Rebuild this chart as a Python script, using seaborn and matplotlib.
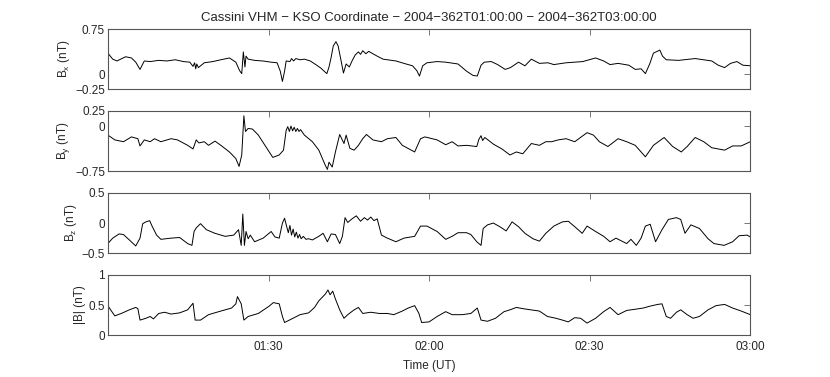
import pandas as pd
import seaborn as sns
import matplotlib
matplotlib.use("Agg")
import matplotlib.pyplot as plt

# Minutes after 01:00 UT and field values (nT)
bx_t = [0.0, 0.9, 1.7, 3.3, 4.4, 5.2, 6.0, 6.8, 7.9, 9.5, 11.0, 12.6, 14.1, 15.3, 15.9,
        16.2, 16.4, 16.6, 16.9, 18.0, 19.6, 21.1, 22.7, 23.9, 24.6, 25.0, 25.3, 25.6, 25.8,
        26.2, 27.4, 28.9, 30.5, 31.6, 32.2, 32.6, 33.0, 33.3, 34.0, 34.3, 34.7, 35.1, 35.9,
        36.7, 37.8, 39.0, 39.8, 40.4, 40.9, 41.3, 41.7, 42.1, 42.6, 43.0, 43.5, 44.0, 44.5,
        45.1, 45.6, 46.2, 46.8, 47.2, 47.6, 48.2, 48.7, 49.5, 50.3, 51.4, 53.8, 55.3, 56.9,
        57.7, 58.2, 58.8, 59.6, 61.5, 63.1, 65.4, 67.0, 68.2, 69.0, 69.7, 70.3, 71.6, 72.8,
        74.2, 75.2, 76.7, 77.9, 79.1, 80.6, 82.2, 83.3, 85.6, 88.7, 91.1, 92.6, 93.8, 95.3,
        97.3, 98.5, 99.6, 100.4, 101.2, 101.9, 103.1, 103.6, 104.3, 106.6, 109.7, 112.8,
        114.0, 115.2, 116.3, 117.5, 118.6, 120.0]
bx_v = [0.35, 0.25, 0.22, 0.29, 0.27, 0.20, 0.08, 0.22, 0.21, 0.23, 0.22, 0.24, 0.21, 0.20, 0.13,
        0.19, 0.09, 0.17, 0.11, 0.19, 0.21, 0.24, 0.27, 0.20, 0.06, 0.01, 0.37, 0.12, 0.30,
        0.25, 0.23, 0.22, 0.20, 0.19, 0.05, -0.12, 0.05, 0.22, 0.21, 0.26, 0.22, 0.26, 0.24,
        0.25, 0.22, 0.15, 0.10, 0.05, 0.01, 0.12, 0.28, 0.47, 0.54, 0.47, 0.25, 0.02, 0.17,
        0.12, 0.22, 0.32, 0.37, 0.33, 0.39, 0.34, 0.38, 0.34, 0.30, 0.25, 0.22, 0.18, 0.14,
        0.06, -0.03, 0.14, 0.19, 0.21, 0.20, 0.17, 0.05, -0.02, -0.03, 0.15, 0.20, 0.21, 0.16,
        0.08, 0.11, 0.20, 0.14, 0.25, 0.18, 0.19, 0.16, 0.19, 0.21, 0.27, 0.22, 0.16, 0.18,
        0.15, 0.08, 0.09, 0.01, 0.17, 0.35, 0.40, 0.30, 0.24, 0.23, 0.26, 0.22,
        0.15, 0.11, 0.18, 0.21, 0.15, 0.14]

by_t = [0.0, 1.3, 2.9, 4.4, 5.6, 6.0, 6.8, 7.9, 8.7, 9.9, 11.8, 13.0, 14.9, 15.9, 16.5,
        17.0, 18.0, 18.8, 20.0, 21.1, 22.7, 23.9, 24.5, 25.0, 25.4, 25.7, 26.2, 27.0, 28.1,
        29.7, 30.8, 32.0, 32.8, 33.3, 33.6, 33.9, 34.2, 34.5, 34.8, 35.1, 35.4, 35.7, 36.0,
        36.7, 38.2, 39.4, 40.6, 41.0, 41.3, 41.9, 42.5, 43.3, 44.1, 44.5, 45.2, 46.0, 46.8,
        47.6, 48.3, 49.5, 51.1, 52.2, 53.8, 55.0, 57.3, 58.4, 59.2, 61.5, 63.1, 64.3, 65.4,
        67.0, 68.9, 69.3, 69.7, 70.0, 70.4, 71.0, 72.0, 73.6, 75.1, 76.3, 77.5, 79.1, 80.6,
        81.8, 82.9, 84.1, 85.6, 87.2, 89.5, 90.7, 91.8, 93.4, 95.3, 96.9, 98.5, 100.4, 101.9,
        103.9, 105.5, 107.1, 108.2, 109.7, 111.3, 112.8, 115.2, 116.7, 118.3, 120.0]
by_v = [-0.15, -0.23, -0.26, -0.18, -0.21, -0.33, -0.23, -0.26, -0.21, -0.26, -0.21, -0.23, -0.32, -0.38, -0.23,
        -0.28, -0.26, -0.32, -0.25, -0.32, -0.43, -0.54, -0.67, -0.48, 0.17, -0.09, -0.04, -0.05, -0.15,
        -0.37, -0.52, -0.48, -0.40, -0.07, -0.01, -0.09, 0.00, -0.08, -0.02, -0.09, -0.04, -0.09, -0.06,
        -0.15, -0.26, -0.40, -0.65, -0.72, -0.60, -0.68, -0.43, -0.14, -0.29, -0.15, -0.37, -0.40, -0.32,
        -0.21, -0.14, -0.23, -0.26, -0.21, -0.19, -0.32, -0.43, -0.21, -0.18, -0.23, -0.31, -0.26, -0.33,
        -0.32, -0.34, -0.22, -0.16, -0.24, -0.19, -0.23, -0.30, -0.38, -0.48, -0.43, -0.46, -0.29, -0.32,
        -0.26, -0.26, -0.23, -0.21, -0.26, -0.11, -0.15, -0.26, -0.34, -0.21, -0.26, -0.32, -0.51, -0.32,
        -0.19, -0.34, -0.43, -0.34, -0.19, -0.26, -0.36, -0.40, -0.33, -0.33, -0.26]

bz_t = [0.0, 0.9, 2.1, 2.9, 4.0, 5.2, 6.0, 6.5, 7.1, 7.8, 8.3, 9.1, 9.9, 11.8, 13.4,
        14.9, 15.7, 16.1, 16.5, 17.3, 18.4, 20.0, 21.9, 23.5, 24.4, 24.9, 25.2, 25.5, 25.8,
        26.2, 26.6, 27.4, 29.0, 30.5, 31.2, 32.0, 32.6, 33.0, 33.4, 33.7, 34.0, 34.3, 34.6,
        34.9, 35.2, 35.5, 35.8, 36.1, 36.5, 37.0, 37.5, 38.2, 39.4, 40.2, 41.0, 41.7, 42.5,
        43.3, 43.8, 44.3, 44.8, 45.6, 46.4, 47.2, 47.9, 48.5, 49.1, 49.7, 50.3, 51.1, 52.2,
        53.8, 55.3, 57.3, 58.4, 59.6, 61.5, 63.1, 64.3, 65.4, 67.0, 67.8, 68.9, 69.7, 70.1,
        70.9, 72.0, 73.2, 74.4, 75.5, 76.7, 77.9, 79.4, 80.6, 81.8, 83.3, 84.9, 86.0, 87.2,
        88.6, 89.5, 91.1, 92.6, 93.8, 94.9, 96.9, 97.7, 98.7, 99.6, 100.4, 101.3, 102.3,
        103.5, 104.7, 106.2, 107.0, 107.8, 108.9, 110.5, 112.1, 113.2, 115.1, 116.7, 117.9,
        119.4, 120.0]
bz_v = [-0.34, -0.25, -0.18, -0.19, -0.28, -0.38, -0.25, -0.01, 0.02, 0.04, -0.06, -0.20, -0.27, -0.25, -0.24,
        -0.34, -0.37, -0.14, -0.08, -0.01, -0.11, -0.17, -0.22, -0.20, -0.11, -0.37, 0.15, -0.37, -0.14,
        -0.26, -0.20, -0.31, -0.25, -0.14, -0.23, -0.25, 0.00, 0.08, -0.06, -0.16, -0.04, -0.20, -0.10,
        -0.23, -0.15, -0.25, -0.19, -0.26, -0.22, -0.27, -0.26, -0.28, -0.22, -0.17, -0.31, -0.18, -0.19,
        -0.34, -0.22, 0.09, 0.01, 0.07, 0.12, 0.03, 0.09, 0.05, 0.10, 0.04, 0.07, -0.20, -0.25,
        -0.31, -0.25, -0.22, -0.05, -0.05, -0.14, -0.27, -0.22, -0.16, -0.16, -0.19, -0.31, -0.37, -0.09,
        -0.03, 0.00, -0.06, -0.13, 0.02, -0.06, -0.17, -0.26, -0.30, -0.17, -0.05, 0.02, 0.03, -0.06,
        -0.17, -0.05, -0.14, -0.22, -0.31, -0.25, -0.34, -0.27, -0.37, -0.25, -0.05, -0.02, -0.31,
        -0.11, 0.06, 0.09, 0.06, -0.17, -0.03, -0.09, -0.26, -0.34, -0.37, -0.31, -0.21,
        -0.20, -0.23]

bt_t = [0.0, 0.5, 1.3, 2.5, 4.0, 5.2, 5.6, 6.0, 7.1, 7.9, 8.5, 9.5, 10.6, 11.8, 13.4,
        14.9, 15.9, 16.3, 17.3, 18.8, 21.1, 23.1, 23.9, 24.2, 24.9, 25.4, 26.2, 28.1, 30.1,
        30.9, 32.0, 32.6, 33.0, 33.9, 35.9, 37.5, 38.6, 39.4, 40.6, 41.1, 41.5, 42.0, 42.5,
        43.3, 44.1, 44.8, 46.0, 46.8, 47.6, 49.1, 50.7, 52.2, 53.4, 55.0, 56.1, 57.3, 58.1,
        58.6, 60.0, 61.5, 63.1, 64.3, 66.2, 67.8, 69.0, 69.7, 70.9, 72.4, 74.0, 75.1, 76.3,
        77.5, 79.0, 80.6, 82.1, 83.7, 84.9, 86.0, 87.2, 88.3, 89.5, 91.1, 92.6, 93.8, 95.3,
        96.9, 98.5, 100.0, 101.2, 102.7, 103.5, 104.3, 105.1, 106.2, 107.0, 108.2, 109.3,
        110.5, 112.1, 113.6, 115.2, 116.7, 118.3, 120.0]
bt_v = [0.49, 0.42, 0.32, 0.36, 0.42, 0.46, 0.44, 0.25, 0.28, 0.31, 0.27, 0.36, 0.38, 0.35, 0.37,
        0.42, 0.53, 0.25, 0.25, 0.34, 0.40, 0.45, 0.52, 0.64, 0.52, 0.25, 0.31, 0.36, 0.48,
        0.54, 0.52, 0.31, 0.21, 0.25, 0.34, 0.37, 0.46, 0.57, 0.68, 0.75, 0.67, 0.73, 0.60,
        0.42, 0.28, 0.34, 0.42, 0.46, 0.36, 0.38, 0.36, 0.36, 0.34, 0.40, 0.45, 0.49, 0.36,
        0.21, 0.22, 0.31, 0.39, 0.34, 0.34, 0.36, 0.45, 0.25, 0.23, 0.28, 0.39, 0.42, 0.46,
        0.44, 0.42, 0.40, 0.31, 0.28, 0.25, 0.22, 0.29, 0.28, 0.20, 0.28, 0.39, 0.46, 0.34,
        0.41, 0.43, 0.45, 0.48, 0.51, 0.52, 0.31, 0.28, 0.38, 0.42, 0.34, 0.28,
        0.31, 0.42, 0.49, 0.51, 0.45, 0.40, 0.34]

x_ticks = [30, 60, 90, 120]
x_ticklabels = ["01:30", "02:00", "02:30", "03:00"]

panels = [
    (bx_t, bx_v, r"B$_\mathrm{x}$ (nT)", (-0.25, 0.75), [-0.25, 0, 0.75], ["\u22120.25", "0", "0.75"]),
    (by_t, by_v, r"B$_\mathrm{y}$ (nT)", (-0.75, 0.25), [-0.75, 0, 0.25], ["\u22120.75", "0", "0.25"]),
    (bz_t, bz_v, r"B$_\mathrm{z}$ (nT)", (-0.5, 0.5), [-0.5, 0, 0.5], ["\u22120.5", "0", "0.5"]),
    (bt_t, bt_v, "|B| (nT)", (0, 1), [0, 0.5, 1], ["0", "0.5", "1"]),
]

sns.set_style("white")
plt.rcParams["font.family"] = ["Liberation Sans", "DejaVu Sans"]
plt.rcParams["mathtext.fontset"] = "custom"
plt.rcParams["mathtext.rm"] = "Liberation Sans"
plt.rcParams["mathtext.it"] = "Liberation Sans:italic"

fig, axes = plt.subplots(4, 1, figsize=(8.3, 3.77), dpi=100, sharex=True)
fig.subplots_adjust(left=0.130, right=0.904, bottom=0.111, top=0.923, hspace=0.36)

for ax, (t, v, label, ylim, yt, ytl) in zip(axes, panels):
    df = pd.DataFrame({"t": t, "v": v})
    sns.lineplot(data=df, x="t", y="v", ax=ax, color="black", linewidth=0.7,
                 estimator=None, sort=False)
    ax.set_xlim(0, 120)
    ax.set_ylim(*ylim)
    ax.set_yticks(yt)
    ax.set_yticklabels(ytl)
    ax.set_ylabel(label, fontsize=8.5, labelpad=2)
    ax.set_xlabel("")
    ax.tick_params(direction="in", length=4, width=0.7, color="#777777",
                   top=True, right=True, labelsize=8.5, pad=2)
    for s in ax.spines.values():
        s.set_color("#555555")
        s.set_linewidth(0.8)

axes[-1].set_xticks(x_ticks)
axes[-1].set_xticklabels(x_ticklabels)
axes[-1].tick_params(axis="x", pad=4)
axes[-1].set_xlabel("Time (UT)", fontsize=8.5, labelpad=5)
axes[0].set_title("Cassini VHM \u2212 KSO Coordinate \u2212 2004\u2212362T01:00:00 \u2212 2004\u2212362T03:00:00",
                  fontsize=9.5, pad=6)

fig.savefig("out.png", dpi=100, facecolor="white")
